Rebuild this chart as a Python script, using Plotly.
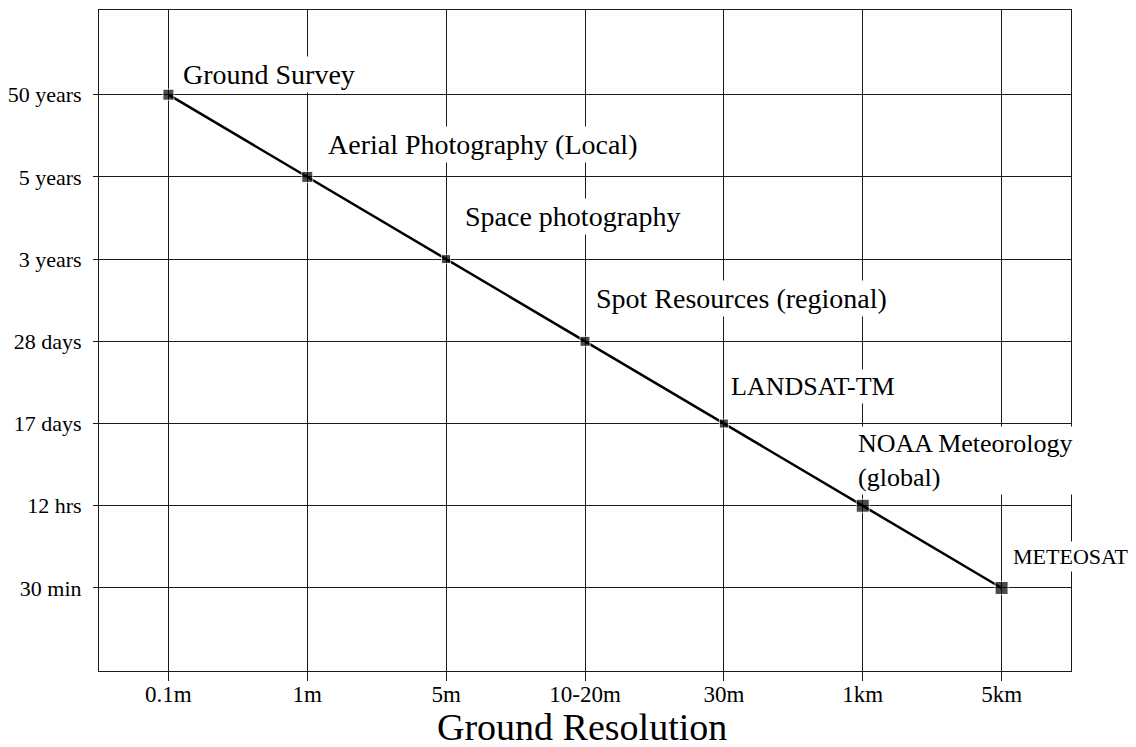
import plotly.graph_objects as go

# ---- data ----
resolution = ["0.1m", "1m", "5m", "10-20m", "30m", "1km", "5km"]
revisit = ["50 years", "5 years", "3 years", "28 days", "17 days", "12 hrs", "30 min"]
systems = ["Ground Survey", "Aerial Photography (Local)", "Space photography",
           "Spot Resources (regional)", "LANDSAT-TM", "NOAA Meteorology<br>(global)",
           "METEOSAT"]
x_title = "Ground Resolution"

# ---- styling of labels (offsets in px from marker, font size) ----
label_style = [
    dict(xs=12, ys=20, size=28),
    dict(xs=18, ys=32, size=28),
    dict(xs=16, ys=43, size=28),
    dict(xs=8, ys=43, size=28),
    dict(xs=4, ys=37, size=26),
    dict(xs=-8, ys=45, size=26),
    dict(xs=8, ys=31, size=22),
]
marker_sizes = [11, 11, 9, 10, 9, 13, 13]

FONT = "Liberation Serif, Times New Roman, serif"

fig = go.Figure()
fig.add_trace(go.Scatter(
    x=resolution, y=revisit, mode="lines+markers",
    line=dict(color="black", width=2.5),
    marker=dict(symbol="square", size=marker_sizes, color="black"),
    showlegend=False, hoverinfo="skip", cliponaxis=False,
))

for xi, yi, txt, st in zip(resolution, revisit, systems, label_style):
    fig.add_annotation(
        x=xi, y=yi, xref="x", yref="y", text=txt, showarrow=False,
        xanchor="left", yanchor="middle", align="left",
        xshift=st["xs"], yshift=st["ys"],
        font=dict(family=FONT, size=st["size"], color="black"),
        bgcolor="white", borderpad=2,
    )

# x-axis title
fig.add_annotation(
    x=0.5, y=0, xref="paper", yref="paper", text=x_title, showarrow=False,
    xanchor="center", yanchor="middle", xshift=-3, yshift=-56,
    font=dict(family=FONT, size=38, color="black"), borderpad=0,
)

fig.update_layout(
    width=1136, height=747,
    margin=dict(l=99, r=65, t=10, b=76, autoexpand=False),
    paper_bgcolor="white", plot_bgcolor="white",
    font=dict(family=FONT, color="black"),
)
fig.update_xaxes(
    type="category", categoryorder="array", categoryarray=resolution,
    range=[-0.5, 6.5], automargin=False,
    showgrid=True, gridcolor="#1a1a1a", gridwidth=1,
    showline=True, linecolor="#1a1a1a", linewidth=1, mirror=True,
    ticks="outside", ticklen=9, tickcolor="#1a1a1a", tickwidth=1,
    ticklabelstandoff=-7,
    tickfont=dict(family=FONT, size=23, color="black"),
    zeroline=False,
)
fig.update_yaxes(
    type="category", categoryorder="array", categoryarray=revisit[::-1],
    range=[-1.01, 7.03], automargin=False,
    showgrid=True, gridcolor="#1a1a1a", gridwidth=1,
    showline=True, linecolor="#1a1a1a", linewidth=1, mirror=True,
    ticks="outside", ticklen=5, tickcolor="#1a1a1a", tickwidth=1,
    ticklabelstandoff=7,
    tickfont=dict(family=FONT, size=22, color="black"),
    zeroline=False,
)

fig.write_html(
    "out.html",
    config=dict(displayModeBar=False),
    post_script="document.body.style.margin='0';document.body.style.overflow='hidden';",
)
